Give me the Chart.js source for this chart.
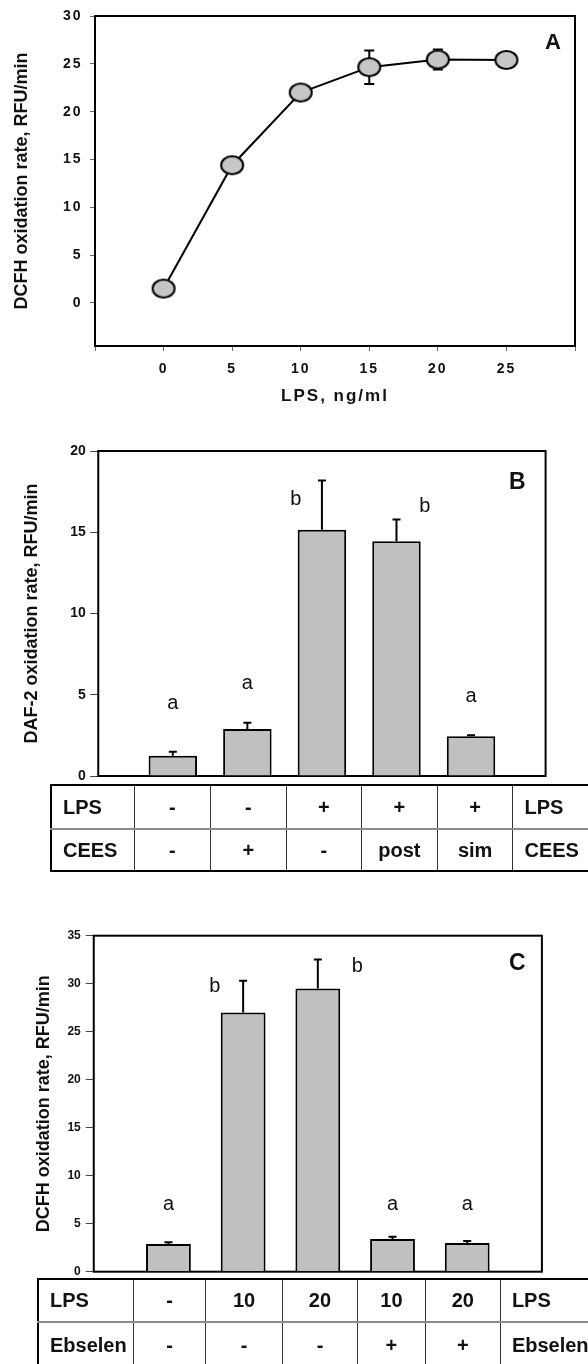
<!DOCTYPE html>
<html>
<head>
<meta charset="utf-8">
<script src="https://cdn.jsdelivr.net/npm/chart.js@4.4.1/dist/chart.umd.min.js"></script>
<style>
  html, body { margin: 0; padding: 0; background: #fff; }
  body { position: relative; width: 588px; height: 1364px; overflow: hidden; }
  canvas { position: absolute; left: 0; }
  table.cond {
    position: absolute; border-collapse: collapse; table-layout: fixed; z-index: 2;
    border: 2px solid #000; color: #111;
    font: bold 20px Arial, "Liberation Sans", sans-serif;
  }
  table.cond td {
    border-left: 1px solid #333; border-right: 1px solid #333;
    text-align: center; padding: 0; white-space: nowrap; overflow: hidden;
  }
  table.cond tr:first-child td { border-bottom: 2px solid #8a8a8a; }
  table.cond td.lab { text-align: left; padding-left: 11px; }
</style>
</head>
<body>
<canvas id="chartA" width="588" height="420" style="top:0px"></canvas>
<canvas id="chartB" width="588" height="360" style="top:430px"></canvas>
<canvas id="chartC" width="588" height="370" style="top:920px"></canvas>
<table id="tableB" class="cond" style="left:50px;top:784px"></table>
<table id="tableC" class="cond" style="left:37px;top:1278px"></table>
<script>
const FONT = 'Arial, "Liberation Sans", sans-serif';

// panel A: DCFH oxidation vs LPS dose
const doseA = [0, 5, 10, 15, 20, 25];
const rateA = [1.5, 14.4, 22.0, 24.65, 25.45, 25.4];
const errA = [0, 0.8, 0.3, 1.75, 1.05, 0.3];
const xMarksA = [-5, 0, 5, 10, 15, 20, 25, 30];
const yTicksA = [0, 5, 10, 15, 20, 25, 30];

// panel B: DAF-2 oxidation
const lpsB = ['-', '-', '+', '+', '+'];
const ceesB = ['-', '+', '-', 'post', 'sim'];
const rateB = [1.25, 2.9, 15.15, 14.45, 2.45];
const errB = [0.25, 0.37, 3.03, 1.34, 0.06];
const sigB = ['a', 'a', 'b', 'b', 'a'];
const yTicksB = [0, 5, 10, 15, 20];

// panel C: DCFH oxidation with Ebselen
const lpsC = ['-', '10', '20', '10', '20'];
const ebselenC = ['-', '-', '-', '+', '+'];
const rateC = [2.88, 27.0, 29.5, 3.4, 3.0];
const errC = [0.2, 3.3, 3.02, 0.24, 0.21];
const sigC = ['a', 'b', 'b', 'a', 'a'];
const yTicksC = [0, 5, 10, 15, 20, 25, 30, 35];

// where the significance letters sit (data units)
const sigPosB = [[1, 4.45], [2, 5.7], [2.65, 17.0], [4.38, 16.6], [5, 4.9]];
const sigPosC = [[1, 6.95], [1.62, 29.7], [3.53, 31.8], [4, 6.95], [5, 6.95]];

const frame = {
  id: 'frame',
  beforeDatasetsDraw(chart) {
    const { ctx, chartArea: a } = chart;
    ctx.save();
    ctx.strokeStyle = '#000';
    ctx.lineWidth = 2;
    ctx.strokeRect(a.left, a.top, a.right - a.left, a.bottom - a.top);
    ctx.restore();
  }
};

function drawErrors(chart, errors, o) {
  const { ctx } = chart;
  const y = chart.scales.y;
  const meta = chart.getDatasetMeta(0);
  const vals = chart.data.datasets[0].data;
  ctx.save();
  ctx.strokeStyle = '#000';
  ctx.lineWidth = o.lineWidth;
  meta.data.forEach((el, i) => {
    const e = errors[i];
    if (!e) return;
    const v = vals[i].y;
    const top = y.getPixelForValue(v + e);
    const bot = o.both ? y.getPixelForValue(v - e) : el.y;
    ctx.beginPath();
    ctx.moveTo(el.x, bot);
    ctx.lineTo(el.x, top);
    ctx.moveTo(el.x - o.cap, top);
    ctx.lineTo(el.x + o.cap, top);
    if (o.both) {
      ctx.moveTo(el.x - o.cap, bot);
      ctx.lineTo(el.x + o.cap, bot);
    }
    ctx.stroke();
  });
  ctx.restore();
}

function errorBars(errors, o) {
  return {
    id: 'errorBars',
    beforeDatasetsDraw(chart) { if (o.under) drawErrors(chart, errors, o); },
    afterDatasetsDraw(chart) { if (!o.under) drawErrors(chart, errors, o); }
  };
}

function marks(items) {
  return {
    id: 'marks',
    afterDraw(chart) {
      const { ctx, scales: { x, y } } = chart;
      ctx.save();
      ctx.letterSpacing = '0px';
      ctx.fillStyle = '#111';
      ctx.textAlign = 'center';
      ctx.textBaseline = 'middle';
      items.forEach(m => {
        ctx.font = m.font;
        ctx.fillText(m.text, x.getPixelForValue(m.x), y.getPixelForValue(m.y));
      });
      ctx.restore();
    }
  };
}

// the ellipse marker of panel A
const dot = document.createElement('canvas');
dot.width = 26; dot.height = 22;
(function () {
  const c = dot.getContext('2d');
  c.beginPath();
  c.ellipse(13, 11, 11, 9, 0, 0, Math.PI * 2);
  c.fillStyle = '#c6c6c6';
  c.fill();
  c.lineWidth = 2;
  c.strokeStyle = '#000';
  c.stroke();
})();

const yTitleA = 'DCFH oxidation rate, RFU/min';
const spacedA = {
  id: 'spacedA',
  beforeDraw(chart) { chart.ctx.letterSpacing = '2px'; },
  afterDraw(chart) {
    const ctx = chart.ctx;
    ctx.letterSpacing = '0px';
    ctx.save();
    ctx.translate(22, (chart.chartArea.top + chart.chartArea.bottom) / 2);
    ctx.rotate(-Math.PI / 2);
    ctx.font = 'bold 18px ' + FONT;
    ctx.fillStyle = '#111';
    ctx.textAlign = 'center';
    ctx.textBaseline = 'middle';
    ctx.fillText(yTitleA, 0, 0);
    ctx.restore();
  }
};

const base = {
  responsive: false,
  animation: false,
  events: [],
  plugins: { legend: { display: false }, tooltip: { enabled: false } }
};

new Chart(document.getElementById('chartA'), {
  type: 'line',
  data: {
    datasets: [{
      data: doseA.map((d, i) => ({ x: d, y: rateA[i] })),
      borderColor: '#000',
      borderWidth: 2,
      tension: 0,
      pointStyle: dot,
      pointRadius: 11
    }]
  },
  options: {
    ...base,
    layout: { padding: { top: 16, right: 8, bottom: 0, left: 0 } },
    scales: {
      x: {
        type: 'linear', min: -5, max: 30,
        afterBuildTicks: s => { s.ticks = xMarksA.map(v => ({ value: v })); },
        ticks: {
          callback: v => doseA.includes(v) ? String(v) : '',
          font: { size: 14, weight: 'bold', family: FONT }, color: '#111',
          padding: 9.5, maxRotation: 0, autoSkip: false
        },
        grid: { drawOnChartArea: false, tickLength: 5, color: '#666' },
        border: { display: false },
        title: {
          display: true, text: 'LPS, ng/ml', color: '#111',
          font: { size: 17, weight: 'bold', family: FONT },
          padding: { top: 0, bottom: 13.8 }
        },
        afterFit: s => { s.height = 74; }
      },
      y: {
        min: -4.5, max: 30,
        afterBuildTicks: s => { s.ticks = yTicksA.map(v => ({ value: v })); },
        ticks: { font: { size: 14, weight: 'bold', family: FONT }, color: '#111', padding: 7.5 },
        grid: { drawOnChartArea: false, tickLength: 5, color: '#666' },
        border: { display: false },
        afterFit: s => { s.width = 95; }
      }
    }
  },
  plugins: [spacedA, frame, errorBars(errA, { both: true, cap: 5, lineWidth: 2, under: true }),
    marks([{ text: 'A', x: 28.4, y: 27.2, font: 'bold 22px ' + FONT }])]
});

function barChart(id, vals, errs, ticks, yMax, barPct, cfg, notes) {
  return new Chart(document.getElementById(id), {
    type: 'bar',
    data: {
      datasets: [{
        data: vals.map((v, i) => ({ x: i + 1, y: v })),
        backgroundColor: '#c0c0c0',
        borderColor: '#000',
        borderWidth: 2,
        barPercentage: barPct,
        categoryPercentage: 1
      }]
    },
    options: {
      ...base,
      layout: { padding: cfg.padding },
      scales: {
        x: { type: 'linear', display: false, min: 0, max: 6, offset: false, ticks: { stepSize: 1 } },
        y: {
          min: 0, max: yMax,
          afterBuildTicks: s => { s.ticks = ticks.map(v => ({ value: v })); },
          ticks: { font: { size: cfg.tickSize, weight: 'bold', family: FONT }, color: '#111', padding: cfg.tickPad },
          grid: { drawOnChartArea: false, tickLength: 8, color: '#444' },
          border: { display: false },
          title: {
            display: true, text: cfg.title, color: '#111',
            font: { size: 18, weight: 'bold', family: FONT },
            padding: { top: cfg.titleX - 10.8, bottom: 0 }
          },
          afterFit: s => { s.width = cfg.axisWidth; }
        }
      }
    },
    plugins: [frame, errorBars(errs, { both: false, cap: 4, lineWidth: 2, under: false }), marks(notes)]
  });
}

barChart('chartB', rateB, errB, yTicksB, 20, 0.65, {
  padding: { top: 21, right: 42.4, bottom: 14, left: 0 },
  tickSize: 14, tickPad: 4.5, axisWidth: 98.25, titleX: 32,
  title: 'DAF-2 oxidation rate, RFU/min'
}, sigB.map((t, i) => ({ text: t, x: sigPosB[i][0], y: sigPosB[i][1], font: '20px ' + FONT }))
  .concat([{ text: 'B', x: 5.62, y: 18.07, font: 'bold 23px ' + FONT }]));

barChart('chartC', rateC, errC, yTicksC, 35, 0.6, {
  padding: { top: 15.7, right: 46.1, bottom: 18.3, left: 0 },
  tickSize: 12, tickPad: 5, axisWidth: 93.75, titleX: 44,
  title: 'DCFH oxidation rate, RFU/min'
}, sigC.map((t, i) => ({ text: t, x: sigPosC[i][0], y: sigPosC[i][1], font: '20px ' + FONT }))
  .concat([{ text: 'C', x: 5.67, y: 32.05, font: 'bold 23px ' + FONT }]));

function buildTable(id, rows, widths, heights) {
  const t = document.getElementById(id);
  const cg = document.createElement('colgroup');
  widths.forEach(w => {
    const c = document.createElement('col');
    c.style.width = w + 'px';
    cg.appendChild(c);
  });
  t.appendChild(cg);
  t.style.width = widths.reduce((a, b) => a + b, 0) + 'px';
  rows.forEach((r, ri) => {
    const tr = t.insertRow();
    tr.style.height = heights[ri] + 'px';
    r.forEach((txt, ci) => {
      const td = tr.insertCell();
      td.textContent = txt;
      if (ci === 0 || ci === r.length - 1) td.className = 'lab';
    });
  });
}

buildTable('tableB', [['LPS', ...lpsB, 'LPS'], ['CEES', ...ceesB, 'CEES']],
  [83.3, 76.1, 75.75, 75.25, 75.9, 75.7, 80], [44, 42]);
buildTable('tableC', [['LPS', ...lpsC, 'LPS'], ['Ebselen', ...ebselenC, 'Ebselen']],
  [95.6, 72, 76.9, 75, 67.9, 75, 92], [43.4, 46]);
</script>
</body>
</html>
